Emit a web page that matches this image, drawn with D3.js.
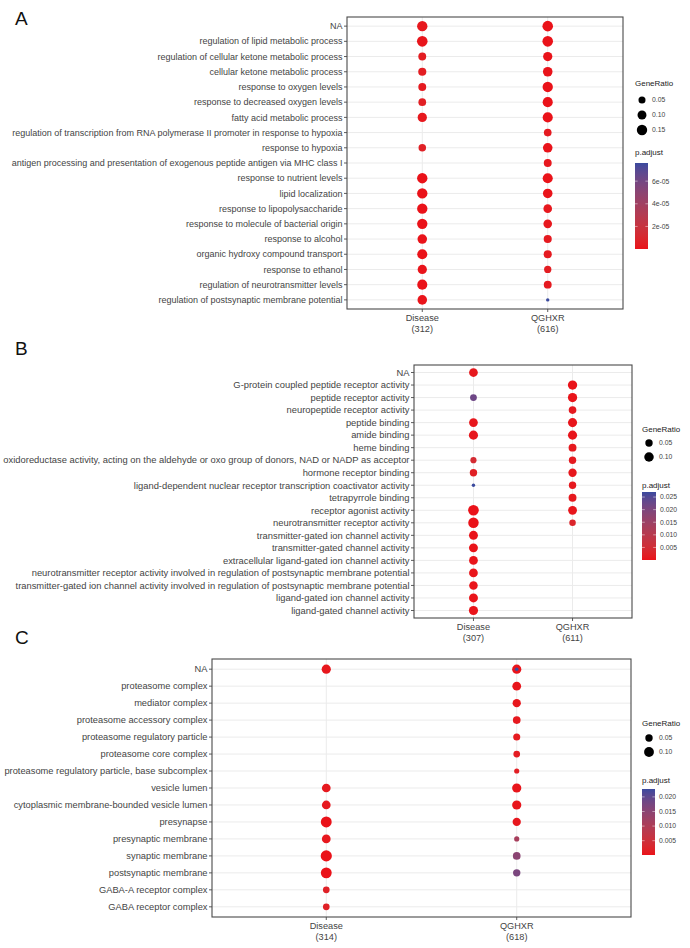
<!DOCTYPE html>
<html>
<head>
<meta charset="utf-8">
<script src="https://cdn.jsdelivr.net/npm/d3@7"></script>
<style>
  html, body { margin: 0; padding: 0; background: #fff; }
  svg { display: block; font-family: "Liberation Sans", Arial, sans-serif; }
</style>
</head>
<body>
<svg id="chart" width="690" height="948"></svg>
<script>
// ---------------- DATA ----------------
const clusters = ["Disease", "QGHXR"];

// Panel A
const countsA = [312, 616];
const termsA = [
  "NA",
  "regulation of lipid metabolic process",
  "regulation of cellular ketone metabolic process",
  "cellular ketone metabolic process",
  "response to oxygen levels",
  "response to decreased oxygen levels",
  "fatty acid metabolic process",
  "regulation of transcription from RNA polymerase II promoter in response to hypoxia",
  "response to hypoxia",
  "antigen processing and presentation of exogenous peptide antigen via MHC class I",
  "response to nutrient levels",
  "lipid localization",
  "response to lipopolysaccharide",
  "response to molecule of bacterial origin",
  "response to alcohol",
  "organic hydroxy compound transport",
  "response to ethanol",
  "regulation of neurotransmitter levels",
  "regulation of postsynaptic membrane potential"
];
const diseaseRatioA = [0.15, 0.16, 0.07, 0.075, 0.07, 0.065, 0.11, null, 0.06, null, 0.15, 0.15, 0.15, 0.15, 0.12, 0.14, 0.11, 0.14, 0.12];
const diseasePadjA  = [2e-6, 1e-6, 4e-6, 4e-6, 3e-6, 5e-6, 2e-6, null, 6e-6, null, 1e-7, 1e-7, 1e-7, 1e-7, 5e-7, 3e-7, 8e-7, 2e-7, 6e-7];
const qghxrRatioA   = [0.16, 0.16, 0.11, 0.12, 0.15, 0.14, 0.14, 0.065, 0.12, 0.07, 0.14, 0.12, 0.09, 0.09, 0.075, 0.075, 0.055, 0.07, 0.012];
const qghxrPadjA    = [1e-7, 1e-7, 5e-7, 4e-7, 1e-7, 2e-7, 2e-7, 3e-6, 5e-7, 2e-6, 3e-7, 6e-7, 2e-6, 2e-6, 3e-6, 3e-6, 4e-6, 3e-6, 7.6e-5];
const sizeBreaksA = [0.05, 0.10, 0.15];
const padjBreaksA = [2e-5, 4e-5, 6e-5];
const padjLabelsA = ["2e-05", "4e-05", "6e-05"];

// Panel B
const countsB = [307, 611];
const termsB = [
  "NA",
  "G-protein coupled peptide receptor activity",
  "peptide receptor activity",
  "neuropeptide receptor activity",
  "peptide binding",
  "amide binding",
  "heme binding",
  "oxidoreductase activity, acting on the aldehyde or oxo group of donors, NAD or NADP as acceptor",
  "hormone receptor binding",
  "ligand-dependent nuclear receptor transcription coactivator activity",
  "tetrapyrrole binding",
  "receptor agonist activity",
  "neurotransmitter receptor activity",
  "transmitter-gated ion channel activity",
  "transmitter-gated channel activity",
  "extracellular ligand-gated ion channel activity",
  "neurotransmitter receptor activity involved in regulation of postsynaptic membrane potential",
  "transmitter-gated ion channel activity involved in regulation of postsynaptic membrane potential",
  "ligand-gated ion channel activity",
  "ligand-gated channel activity"
];
const diseaseRatioB = [0.08, null, 0.04, null, 0.08, 0.09, null, 0.03, 0.05, 0.012, null, 0.135, 0.13, 0.085, 0.085, 0.08, 0.08, 0.075, 0.085, 0.09];
const diseasePadjB  = [0.0008, null, 0.022, null, 0.0006, 0.0006, null, 0.0045, 0.002, 0.027, null, 0.00001, 0.00001, 0.0002, 0.0002, 0.0003, 0.0003, 0.0003, 0.0002, 0.0002];
const qghxrRatioB   = [null, 0.095, 0.095, 0.055, 0.09, 0.09, 0.06, 0.05, 0.07, 0.05, 0.06, 0.08, 0.035];
const qghxrPadjB    = [null, 0.0002, 0.0002, 0.001, 0.0004, 0.0004, 0.0008, 0.001, 0.0006, 0.0009, 0.0008, 0.0005, 0.003];
const sizeBreaksB = [0.05, 0.10];
const padjBreaksB = [0.005, 0.010, 0.015, 0.020, 0.025];
const padjLabelsB = ["0.005", "0.010", "0.015", "0.020", "0.025"];

// Panel C
const countsC = [314, 618];
const termsC = [
  "NA",
  "proteasome complex",
  "mediator complex",
  "proteasome accessory complex",
  "proteasome regulatory particle",
  "proteasome core complex",
  "proteasome regulatory particle, base subcomplex",
  "vesicle lumen",
  "cytoplasmic membrane-bounded vesicle lumen",
  "presynapse",
  "presynaptic membrane",
  "synaptic membrane",
  "postsynaptic membrane",
  "GABA-A receptor complex",
  "GABA receptor complex"
];
const diseaseRatioC = [0.085, null, null, null, null, null, null, 0.075, 0.075, 0.13, 0.075, 0.14, 0.13, 0.04, 0.04];
const diseasePadjC  = [0.0006, null, null, null, null, null, null, 0.0008, 0.0008, 0.0001, 0.0007, 0.0001, 0.0001, 0.002, 0.002];
const qghxrRatioC   = [0.085, 0.075, 0.065, 0.055, 0.045, 0.04, 0.025, 0.085, 0.085, 0.065, 0.025, 0.055, 0.05, null, null];
const qghxrPadjC    = [0.0003, 0.0004, 0.0006, 0.0008, 0.001, 0.0012, 0.0015, 0.0004, 0.0004, 0.0007, 0.011, 0.015, 0.017, null, null];
// second QGHXR term labelled "NA" (drawn on top of the first)
const qghxrExtraNARatioC = [0.02];
const qghxrExtraNAPadjC  = [0.0227];
const sizeBreaksC = [0.05, 0.10];
const padjBreaksC = [0.005, 0.010, 0.015, 0.020];
const padjLabelsC = ["0.005", "0.010", "0.015", "0.020"];

// ---------------- DRAWING ----------------
const LOW = "#EA1219", HIGH = "#3A4A9E";
const svg = d3.select("#chart");
svg.append("rect").attr("width", 690).attr("height", 948).attr("fill", "#fff");

function buildPoints(terms, dR, dP, qR, qP) {
  const pts = [];
  terms.forEach((t, i) => {
    if (dR[i] != null) pts.push({term: t, cluster: clusters[0], ratio: dR[i], padj: dP[i]});
  });
  terms.forEach((t, i) => {
    if (qR[i] != null) pts.push({term: t, cluster: clusters[1], ratio: qR[i], padj: qP[i]});
  });
  return pts;
}

function drawPanel(cfg) {
  const g = svg.append("g");
  const {left, right, top, bottom} = cfg.box;
  // panel letter
  g.append("text").attr("x", cfg.letter.x).attr("y", cfg.letter.y)
    .attr("font-size", 19).attr("fill", "#111").text(cfg.letter.t);

  // ggplot discrete expansion: 0.6 units each side
  const xPos = d3.scaleLinear().domain([0.4, 2.6]).range([left, right]);
  const xOf = c => xPos(clusters.indexOf(c) + 1);
  const n = cfg.terms.length;
  const yLin = d3.scaleLinear().domain([0.4, n + 0.6]).range([bottom, top]);
  const y = d3.scaleOrdinal().domain(cfg.terms).range(cfg.terms.map((t, i) => yLin(n - i)));

  // grid
  g.selectAll(".hg").data(cfg.terms).enter().append("line")
    .attr("x1", left).attr("x2", right).attr("y1", d => y(d)).attr("y2", d => y(d))
    .attr("stroke", "#EBEBEB").attr("stroke-width", 1);
  g.selectAll(".vg").data(clusters).enter().append("line")
    .attr("x1", d => xOf(d)).attr("x2", d => xOf(d)).attr("y1", top).attr("y2", bottom)
    .attr("stroke", "#EBEBEB").attr("stroke-width", 1);

  // size & colour scales
  const ratios = cfg.points.map(p => p.ratio);
  const tScale = d3.scaleLinear().domain([d3.min(ratios), d3.max(ratios)]).range([0, 1]).clamp(true);
  const RMIN = cfg.rmin, RMAX = cfg.rmax;
  const rOf = v => RMIN + (RMAX - RMIN) * Math.sqrt(tScale(v));
  const pads = cfg.points.map(p => p.padj);
  const color = d3.scaleLinear().domain([d3.min(pads), d3.max(pads)]).range([LOW, HIGH]).interpolate(d3.interpolateLab);

  // points
  g.selectAll(".pt").data(cfg.points).enter().append("circle")
    .attr("cx", d => xOf(d.cluster)).attr("cy", d => y(d.term))
    .attr("r", d => rOf(d.ratio)).attr("fill", d => color(d.padj));

  // border
  g.append("rect").attr("x", left).attr("y", top).attr("width", right - left).attr("height", bottom - top)
    .attr("fill", "none").attr("stroke", "#4a4a4a").attr("stroke-width", 1.1);

  // y axis ticks + labels
  cfg.terms.forEach(t => {
    g.append("line").attr("x1", left - 3).attr("x2", left).attr("y1", y(t)).attr("y2", y(t))
      .attr("stroke", "#4a4a4a").attr("stroke-width", 0.9);
    g.append("text").attr("x", left - 4.5).attr("y", y(t)).attr("dy", "0.35em")
      .attr("text-anchor", "end").attr("font-size", cfg.fs).attr("fill", "#444").text(t);
  });
  // x axis ticks + labels
  clusters.forEach((c, i) => {
    g.append("line").attr("x1", xOf(c)).attr("x2", xOf(c)).attr("y1", bottom).attr("y2", bottom + 3)
      .attr("stroke", "#4a4a4a").attr("stroke-width", 0.9);
    const tx = g.append("text").attr("x", xOf(c)).attr("y", bottom + 12)
      .attr("text-anchor", "middle").attr("font-size", cfg.fsx).attr("fill", "#444");
    tx.append("tspan").attr("x", xOf(c)).text(c);
    tx.append("tspan").attr("x", xOf(c)).attr("dy", "1.15em").text("(" + cfg.counts[i] + ")");
  });

  // legend: GeneRatio
  const L = cfg.legend;
  g.append("text").attr("x", L.x).attr("y", L.titleY).attr("font-size", 8).attr("fill", "#222").text("GeneRatio");
  cfg.sizeBreaks.forEach((b, i) => {
    const cy = L.circY0 + i * L.circStep;
    g.append("circle").attr("cx", L.x + 7).attr("cy", cy).attr("r", rOf(b)).attr("fill", "#000");
    g.append("text").attr("x", L.x + 17).attr("y", cy).attr("dy", "0.35em").attr("font-size", 6.8)
      .attr("fill", "#444").text(d3.format(".2f")(b));
  });
  // legend: p.adjust
  g.append("text").attr("x", L.x).attr("y", L.padjY).attr("font-size", 8).attr("fill", "#222").text("p.adjust");
  const gid = "grad" + cfg.letter.t;
  const grad = svg.append("defs").append("linearGradient").attr("id", gid)
    .attr("x1", 0).attr("x2", 0).attr("y1", 1).attr("y2", 0);
  const pd = color.domain();
  d3.range(0, 1.0001, 0.05).forEach(f => {
    grad.append("stop").attr("offset", f).attr("stop-color", color(pd[0] + f * (pd[1] - pd[0])));
  });
  const cb = L.bar;
  g.append("rect").attr("x", cb.x).attr("y", cb.y0).attr("width", cb.w).attr("height", cb.y1 - cb.y0)
    .attr("fill", `url(#${gid})`);
  const cbScale = d3.scaleLinear().domain(pd).range([cb.y1, cb.y0]);
  cfg.padjBreaks.forEach((b, i) => {
    const yy = cbScale(b);
    g.append("line").attr("x1", cb.x).attr("x2", cb.x + cb.w / 5).attr("y1", yy).attr("y2", yy)
      .attr("stroke", "#fff").attr("stroke-opacity", 0.6).attr("stroke-width", 0.8);
    g.append("line").attr("x1", cb.x + cb.w * 4 / 5).attr("x2", cb.x + cb.w).attr("y1", yy).attr("y2", yy)
      .attr("stroke", "#fff").attr("stroke-opacity", 0.6).attr("stroke-width", 0.8);
    g.append("text").attr("x", cb.x + cb.w + 4).attr("y", yy).attr("dy", "0.35em").attr("font-size", 6.8)
      .attr("fill", "#444").text(cfg.padjLabels[i]);
  });
}

const pointsA = buildPoints(termsA, diseaseRatioA, diseasePadjA, qghxrRatioA, qghxrPadjA);
const pointsB = buildPoints(termsB, diseaseRatioB, diseasePadjB, qghxrRatioB, qghxrPadjB);
const pointsC = buildPoints(termsC, diseaseRatioC, diseasePadjC, qghxrRatioC, qghxrPadjC);
qghxrExtraNARatioC.forEach((r, i) => pointsC.push({term: "NA", cluster: "QGHXR", ratio: r, padj: qghxrExtraNAPadjC[i]}));

drawPanel({
  letter: {t: "A", x: 15, y: 25},
  terms: termsA, points: pointsA, counts: countsA,
  box: {left: 347, right: 623, top: 17, bottom: 309},
  fs: 9.0, fsx: 9.2, rmin: 1.7, rmax: 5.3,
  sizeBreaks: sizeBreaksA, padjBreaks: padjBreaksA, padjLabels: padjLabelsA,
  legend: {x: 635, titleY: 86, circY0: 100, circStep: 15, padjY: 155,
           bar: {x: 635, w: 13, y0: 163, y1: 249}}
});
drawPanel({
  letter: {t: "B", x: 15, y: 355},
  terms: termsB, points: pointsB, counts: countsB,
  box: {left: 414, right: 632, top: 365, bottom: 618},
  fs: 9.4, fsx: 9.2, rmin: 1.7, rmax: 5.3,
  sizeBreaks: sizeBreaksB, padjBreaks: padjBreaksB, padjLabels: padjLabelsB,
  legend: {x: 642, titleY: 432, circY0: 443, circStep: 14, padjY: 488,
           bar: {x: 642, w: 14, y0: 492, y1: 560}}
});
drawPanel({
  letter: {t: "C", x: 15, y: 644},
  terms: termsC, points: pointsC, counts: countsC,
  box: {left: 212, right: 631, top: 659, bottom: 917},
  fs: 9.3, fsx: 9.2, rmin: 1.8, rmax: 5.6,
  sizeBreaks: sizeBreaksC, padjBreaks: padjBreaksC, padjLabels: padjLabelsC,
  legend: {x: 642, titleY: 726, circY0: 738, circStep: 14, padjY: 783,
           bar: {x: 642, w: 13, y0: 789, y1: 855}}
});
</script>
</body>
</html>
